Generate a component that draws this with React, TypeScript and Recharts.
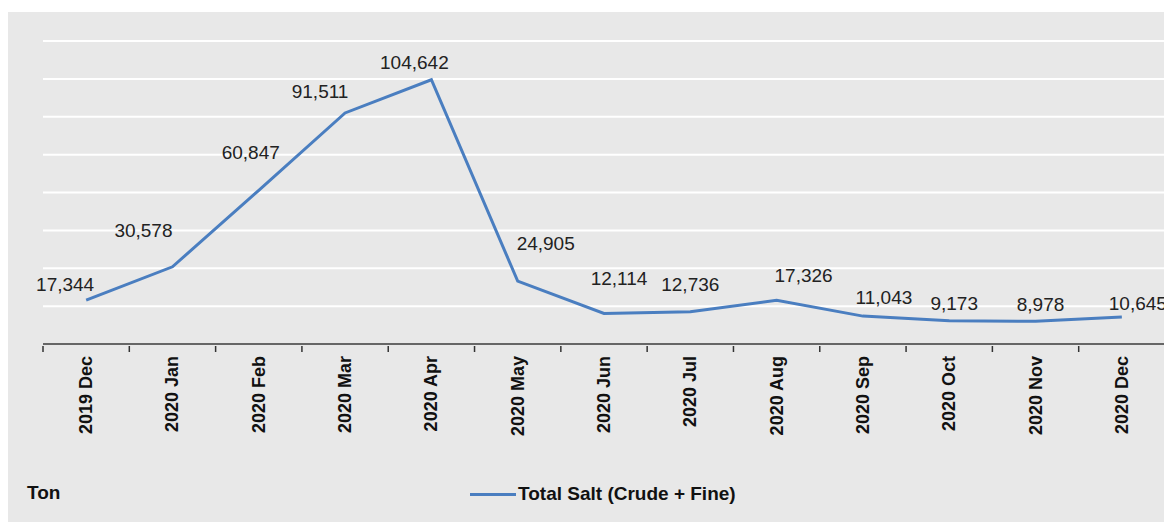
import { CartesianGrid, LabelList, Legend, Line, LineChart, XAxis, YAxis } from "recharts";

const months = [
  "2019 Dec", "2020 Jan", "2020 Feb", "2020 Mar", "2020 Apr", "2020 May", "2020 Jun",
  "2020 Jul", "2020 Aug", "2020 Sep", "2020 Oct", "2020 Nov", "2020 Dec",
];
const totalSalt = [17344, 30578, 60847, 91511, 104642, 24905, 12114, 12736, 17326, 11043, 9173, 8978, 10645];
const yTicks = [0, 15000, 30000, 45000, 60000, 75000, 90000, 105000, 120000];

// hand-placed label nudges, like the original
const labelNudge = [
  [-21, -16], [-29, -36], [-8, -38], [-25, -21], [-17, -17], [28, -38], [15, -35],
  [0, -27], [27, -25], [21, -19], [5, -17], [5, -17], [16, -14],
];

const data = months.map((m, i) => ({ month: m, total: totalSalt[i] }));

const W = 1164;
const H = 510;
const margin = { top: 29, right: 7, left: 35, bottom: 17 };
const BAND = (W - margin.left - margin.right) / months.length;
const LINE_COLOR = "#4a7ec0";
const FONT = "'Liberation Sans', Arial, sans-serif";

const XTick = (props: any) => {
  const { x, y, payload, index } = props;
  const half = BAND / 2;
  return (
    <g>
      <line x1={x - half} y1={y} x2={x - half} y2={y + 6} stroke="#333" strokeWidth={1.5} />
      {index === months.length - 1 && (
        <line x1={x + half} y1={y} x2={x + half} y2={y + 6} stroke="#333" strokeWidth={1.5} />
      )}
      <text
        x={x}
        y={y + 10}
        transform={`rotate(-90, ${x}, ${y + 10})`}
        textAnchor="end"
        dominantBaseline="central"
        fontSize={18}
        fontWeight="bold"
        fontFamily={FONT}
        fill="#111"
      >
        {payload.value}
      </text>
    </g>
  );
};

const ValueLabel = (props: any) => {
  const { x, y, value, index } = props;
  const [dx, dy] = labelNudge[index] || [0, -15];
  return (
    <text
      x={x + dx}
      y={y + dy}
      textAnchor="middle"
      dominantBaseline="central"
      fontSize={19}
      fontFamily={FONT}
      fill="#222"
    >
      {Number(value).toLocaleString("en-US")}
    </text>
  );
};

const LegendBox = () => (
  <div style={{ display: "flex", alignItems: "center", fontFamily: FONT }}>
    <div style={{ width: 46, height: 3, background: LINE_COLOR }} />
    <span style={{ fontSize: 19, fontWeight: "bold", color: "#111", marginLeft: 2 }}>
      Total Salt (Crude + Fine)
    </span>
  </div>
);

export default function App() {
  return (
    <div style={{ position: "relative", width: W, height: H, marginTop: 4, background: "#e8e8e8" }}>
      <LineChart width={W} height={H} data={data} margin={margin}>
        <CartesianGrid horizontal vertical={false} stroke="#ffffff" strokeWidth={2} />
        <YAxis hide domain={[0, 120000]} ticks={yTicks} />
        <XAxis
          dataKey="month"
          height={139}
          interval={0}
          padding={{ left: BAND / 2, right: BAND / 2 }}
          tick={<XTick />}
          tickLine={false}
          tickSize={0}
          axisLine={{ stroke: "#333", strokeWidth: 1.5 }}
        />
        <Legend
          verticalAlign="bottom"
          content={<LegendBox />}
          wrapperStyle={{ left: 462, width: 300, bottom: 17 }}
        />
        <Line
          type="linear"
          dataKey="total"
          name="Total Salt (Crude + Fine)"
          stroke={LINE_COLOR}
          strokeWidth={3}
          dot={false}
          isAnimationActive={false}
        >
          <LabelList dataKey="total" content={<ValueLabel />} />
        </Line>
      </LineChart>
      <div
        style={{
          position: "absolute",
          left: 19,
          top: 470,
          fontFamily: FONT,
          fontSize: 19,
          fontWeight: "bold",
          color: "#111",
        }}
      >
        Ton
      </div>
    </div>
  );
}
